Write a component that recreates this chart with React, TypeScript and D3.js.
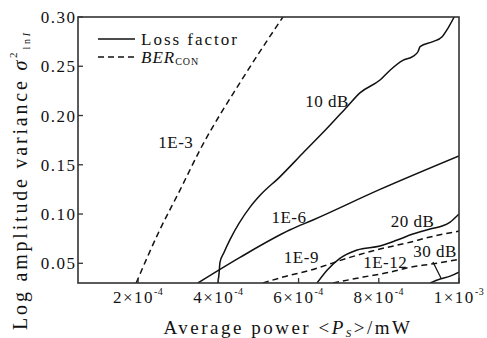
import React from 'react';
import * as d3 from 'd3';

const W = 487;
const H = 338;
const PL = 78, PR = 459, PT = 17, PB = 283;

// ---- data ----
const xTicks = [2e-4, 4e-4, 6e-4, 8e-4, 1e-3];
const xTickMant = ['2', '4', '6', '8', '1'];
const xTickExp = ['-4', '-4', '-4', '-4', '-3'];
const yTicks = [0.05, 0.1, 0.15, 0.2, 0.25, 0.3];
const yTickLabels = ['0.05', '0.10', '0.15', '0.20', '0.25', '0.30'];

const ber1e3X = [1.95e-4, 2.54e-4, 3.04e-4, 3.54e-4, 4.58e-4, 5.61e-4];
const ber1e3Y = [0.03, 0.084, 0.124, 0.165, 0.236, 0.3];

const loss10X = [3.99e-4, 4.02e-4, 4.04e-4, 4.14e-4, 4.29e-4, 4.79e-4, 5.04e-4, 5.54e-4, 6.11e-4, 6.71e-4, 7.21e-4, 7.53e-4, 8.03e-4, 8.28e-4, 8.6e-4, 8.85e-4, 8.98e-4, 9.03e-4, 9.35e-4, 9.58e-4, 9.73e-4, 9.88e-4];
const loss10Y = [0.03, 0.041, 0.051, 0.061, 0.074, 0.107, 0.119, 0.138, 0.162, 0.187, 0.209, 0.223, 0.236, 0.246, 0.256, 0.26, 0.265, 0.27, 0.275, 0.28, 0.289, 0.3];

const ber1e6X = [3.49e-4, 4.54e-4, 5.79e-4, 6.36e-4, 8.03e-4, 10.0e-4];
const ber1e6Y = [0.03, 0.056, 0.084, 0.094, 0.125, 0.159];

const ber1e9X = [5.11e-4, 5.61e-4, 6.29e-4, 7.28e-4, 8.03e-4, 8.7e-4, 9.28e-4, 10.0e-4];
const ber1e9Y = [0.03, 0.036, 0.043, 0.056, 0.0645, 0.0706, 0.0767, 0.0827];

const ber1e12X = [6.86e-4, 7.61e-4, 8.28e-4, 8.78e-4, 9.28e-4, 10.0e-4];
const ber1e12Y = [0.03, 0.036, 0.041, 0.046, 0.049, 0.054];

const loss20X = [6.46e-4, 6.71e-4, 7.03e-4, 7.46e-4, 8.03e-4, 8.46e-4, 8.85e-4, 9.28e-4, 9.58e-4, 9.78e-4, 10.0e-4];
const loss20Y = [0.03, 0.043, 0.055, 0.0635, 0.0675, 0.0736, 0.0797, 0.0848, 0.0878, 0.0919, 0.1];

const loss30X = [9.28e-4, 9.53e-4, 9.78e-4, 10.0e-4];
const loss30Y = [0.03, 0.034, 0.037, 0.041];

const curveLabels = ['1E-3', '10 dB', '1E-6', '1E-9', '20 dB', '1E-12', '30 dB'];
const curveLabelX = [2.94e-4, 6.71e-4, 5.76e-4, 6.07e-4, 8.84e-4, 8.16e-4, 9.4e-4];
const curveLabelY = [0.167, 0.209, 0.0909, 0.0503, 0.0868, 0.0452, 0.0563];

const leaderX = [9.35e-4, 9.55e-4];
const leaderY = [0.0513, 0.035];

const FONT = 'Liberation Serif';

export default function App() {
  const x = d3.scaleLinear().domain([0.5e-4, 1e-3]).range([PL, PR]);
  const y = d3.scaleLinear().domain([0.03, 0.3]).range([PB, PT]);

  const line = (xs: number[], ys: number[]) =>
    d3.line<number>()
      .x((_, i) => x(xs[i]))
      .y((_, i) => y(ys[i]))
      .curve(d3.curveMonotoneX)(xs.map((_, i) => i)) as string;

  const solid = [
    [loss10X, loss10Y],
    [ber1e6X, ber1e6Y],
    [loss20X, loss20Y],
    [loss30X, loss30Y],
  ];
  const dashed = [
    [ber1e3X, ber1e3Y],
    [ber1e9X, ber1e9Y],
    [ber1e12X, ber1e12Y],
  ];

  return (
    <svg width={W} height={H} style={{ position: 'absolute', left: 0, top: 0, background: '#fff', fontFamily: FONT }}>
      <defs>
        <clipPath id="plot">
          <rect x={PL} y={PT} width={PR - PL} height={PB - PT} />
        </clipPath>
      </defs>
      <rect width={W} height={H} fill="#fff" />
      <g clipPath="url(#plot)" fill="none" stroke="#111" strokeWidth={1.5}>
        {solid.map((s, i) => (
          <path key={'s' + i} d={line(s[0], s[1])} />
        ))}
        {dashed.map((s, i) => (
          <path key={'d' + i} d={line(s[0], s[1])} strokeDasharray="6,4" />
        ))}
        <line x1={x(leaderX[0])} y1={y(leaderY[0])} x2={x(leaderX[1])} y2={y(leaderY[1])} strokeWidth={1.3} />
      </g>
      {/* frame */}
      <rect x={PL} y={PT} width={PR - PL} height={PB - PT} fill="none" stroke="#333" strokeWidth={1.6} />
      {/* ticks */}
      {xTicks.map((t, i) => (
        <g key={'xt' + i}>
          <line x1={x(t)} x2={x(t)} y1={PB} y2={PB - 5} stroke="#333" strokeWidth={1.3} />
          <text x={x(t)} y={303} textAnchor="middle" fontSize={17} letterSpacing={1.5} fill="#111">
            {xTickMant[i] + '×10'}
            <tspan fontSize={10} dy={-8} letterSpacing={0.5}>{xTickExp[i]}</tspan>
          </text>
        </g>
      ))}
      {yTicks.map((t, i) => (
        <g key={'yt' + i}>
          <line x1={PL} x2={PL + 5} y1={y(t)} y2={y(t)} stroke="#333" strokeWidth={1.3} />
          <text x={76.5} y={y(t) + 6} textAnchor="end" fontSize={17} letterSpacing={1.5} fill="#111">
            {yTickLabels[i]}
          </text>
        </g>
      ))}
      {/* curve labels */}
      {curveLabels.map((l, i) => (
        <text key={'cl' + i} x={x(curveLabelX[i])} y={y(curveLabelY[i])} textAnchor="middle"
          fontSize={17} letterSpacing={0.5} fill="#111">{l}</text>
      ))}
      {/* legend */}
      <line x1={98} x2={135} y1={39} y2={39} stroke="#111" strokeWidth={1.5} />
      <text x={141} y={44.5} fontSize={17} letterSpacing={2} fill="#111">Loss factor</text>
      <line x1={98} x2={135} y1={57} y2={57} stroke="#111" strokeWidth={1.5} strokeDasharray="6,4" />
      <text x={141} y={63} fontSize={17} letterSpacing={1} fill="#111">
        <tspan fontStyle="italic">BER</tspan>
        <tspan fontSize={10} dy={2}>CON</tspan>
      </text>
      {/* axis labels */}
      <text x={288} y={334} textAnchor="middle" fontSize={19} letterSpacing={2.5} fill="#111">
        {'Average power <'}
        <tspan fontStyle="italic">P</tspan>
        <tspan fontStyle="italic" fontSize={11} dy={3}>S</tspan>
        <tspan dy={-3}>{'>/mW'}</tspan>
      </text>
      <text transform="translate(27,180) rotate(-90)" textAnchor="middle" fontSize={20} letterSpacing={2.8} fill="#111">
        {'Log amplitude variance '}
        <tspan fontStyle="italic">σ</tspan>
        <tspan fontSize={11} dy={-10}>2</tspan>
        <tspan fontSize={10} dy={13}>ln</tspan>
        <tspan fontSize={10} fontStyle="italic">I</tspan>
      </text>
    </svg>
  );
}
